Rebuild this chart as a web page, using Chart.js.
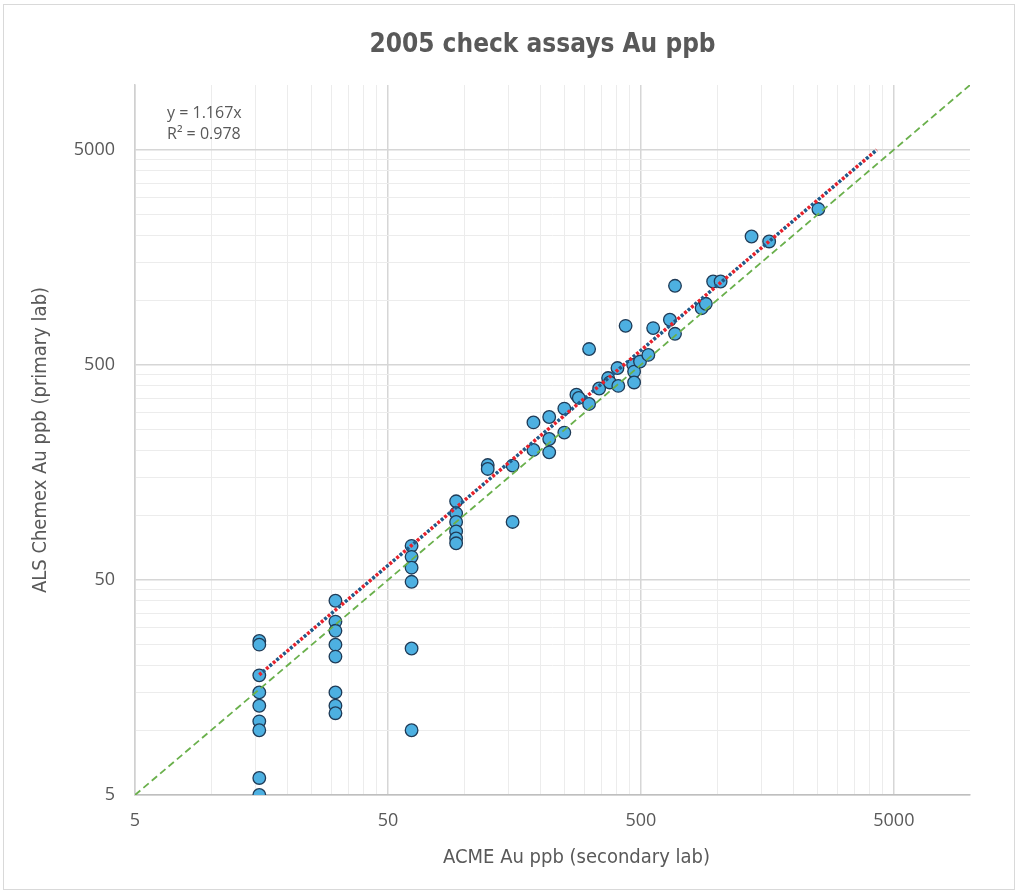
<!DOCTYPE html>
<html>
<head>
<meta charset="utf-8">
<script src="https://cdn.jsdelivr.net/npm/chart.js@4.4.1/dist/chart.umd.min.js"></script>
<style>
  html, body { margin: 0; padding: 0; background: #fff; }
  #wrap { position: relative; width: 1020px; height: 893px; }
  #frame { position: absolute; left: 3px; top: 4px; width: 1010px; height: 884px; border: 1px solid #d9d9d9; }
  #chart { position: absolute; left: 0; top: 0; }
</style>
</head>
<body>
<div id="wrap"><div id="frame"></div><canvas id="chart" width="1020" height="893"></canvas></div>
<script>
// ---- data ----
const acme = [
  15.5, 15.5, 15.5, 15.5, 15.5, 15.5, 15.5, 15.5, 15.5,
  31, 31, 31, 31, 31, 31, 31, 31,
  62, 62, 62, 62, 62, 62,
  93, 93, 93, 93, 93, 93,
  124, 124, 155.5, 155.5,
  188, 217, 249, 217, 188, 217, 249, 278, 284, 312, 312, 342, 371, 377, 407, 404,
  435, 466, 470, 470, 496, 535, 559, 651, 682, 682, 869, 903, 965, 1033, 1369, 1607, 2515
];
const alsChemex = [
  26, 25, 18, 15, 13, 11, 10, 6, 5,
  40, 32, 29, 25, 22, 15, 13, 12,
  72, 64, 57, 49, 24, 10,
  116, 102, 93, 84, 78, 74,
  171, 164, 170, 93,
  270, 286, 313, 226, 201, 196, 242, 363, 351, 329, 592, 388, 434, 414, 399, 483,
  759, 500, 465, 414, 518, 556, 741, 810, 697, 1165, 917, 961, 1220, 1220, 1975, 1873, 2650
];

// linear trend through origin, y = 1.167x
const trendX = [15.5, 4280];
const trendY = [18.1, 4995];
// 1:1 reference line
const oneToOneX = [5, 10000];
const oneToOneY = [5, 10000];

const gridValues = [5, 10, 15, 20, 25, 30, 35, 40, 45, 50,
  100, 150, 200, 250, 300, 350, 400, 450, 500,
  1000, 1500, 2000, 2500, 3000, 3500, 4000, 4500, 5000, 10000];
const majorTicks = [5, 50, 500, 5000];

const pts = (xs, ys) => xs.map((x, i) => ({ x: x, y: ys[i] }));

const narrow = "'Liberation Sans Narrow', 'DejaVu Sans Condensed', sans-serif";
const grey = '#595959';

function gridColor(c) {
  if (!c.tick) return '#eeeeee';
  if (c.tick.value === 10000) return 'rgba(0,0,0,0)';
  return majorTicks.includes(c.tick.value) ? '#d6d6d6' : '#ececec';
}
function gridWidth(c) {
  return c.tick && majorTicks.includes(c.tick.value) ? 1.5 : 1;
}
function setTicks(scale) {
  scale.ticks = gridValues.map(v => ({ value: v }));
}
const tickLabel = v => majorTicks.includes(v) ? String(v) : '';

// chart title, x-axis title and the trendline equation
const chartTexts = {
  id: 'chartTexts',
  afterDraw(chart) {
    const { ctx, chartArea } = chart;
    const mid = (chartArea.left + chartArea.right) / 2;
    ctx.save();
    ctx.fillStyle = grey;
    ctx.textBaseline = 'middle';
    ctx.textAlign = 'center';
    ctx.font = "bold 26px " + narrow;
    ctx.fillText('2005 check assays Au ppb', mid - 10, 45);
    ctx.font = "20px " + narrow;
    ctx.fillText('ACME Au ppb (secondary lab)', mid + 24, 858);
    ctx.textAlign = 'left';
    ctx.font = "16px 'Open Sans', sans-serif";
    ctx.fillText('y = 1.167x', chartArea.left + 32, chartArea.top + 28);
    ctx.fillText('R\u00B2 = 0.978', chartArea.left + 32, chartArea.top + 49);
    ctx.restore();
  }
};

new Chart(document.getElementById('chart'), {
  type: 'scatter',
  data: {
    datasets: [
      {
        label: 'check assays',
        data: pts(acme, alsChemex),
        backgroundColor: '#4DB0E1',
        borderColor: '#1F3B57',
        borderWidth: 1.3,
        pointRadius: 6.3,
        order: 3
      },
      {
        label: '1:1',
        data: pts(oneToOneX, oneToOneY),
        showLine: true,
        borderColor: '#6AB04C',
        borderWidth: 1.8,
        borderDash: [7, 4],
        pointRadius: 0,
        order: 2
      },
      {
        label: 'trend blue',
        data: pts(trendX, trendY),
        showLine: true,
        borderColor: '#1E5A8A',
        borderWidth: 3.5,
        borderDash: [3, 6],
        borderDashOffset: 4.5,
        pointRadius: 0,
        order: 1
      },
      {
        label: 'trend red',
        data: pts(trendX, trendY),
        showLine: true,
        borderColor: '#E8222C',
        borderWidth: 3.5,
        borderDash: [3, 6],
        pointRadius: 0,
        order: 0
      }
    ]
  },
  options: {
    responsive: false,
    animation: false,
    layout: { padding: { top: 85, right: 50, bottom: 0, left: 0 } },
    plugins: {
      legend: { display: false },
      tooltip: { enabled: false },
      title: { display: false }
    },
    scales: {
      x: {
        type: 'logarithmic',
        min: 5, max: 10000,
        afterBuildTicks: setTicks,
        afterFit: s => { s.height = 98; },
        ticks: { autoSkip: false, maxRotation: 0, padding: 15, color: grey,
                 font: { family: "'Open Sans', sans-serif", size: 18 }, callback: tickLabel },
        grid: { drawTicks: false, color: gridColor, lineWidth: gridWidth },
        border: { color: '#bfbfbf', width: 1.5 }
      },
      y: {
        type: 'logarithmic',
        min: 5, max: 10000,
        afterBuildTicks: setTicks,
        afterFit: s => { s.width = 135; },
        ticks: { autoSkip: false, padding: 20, color: grey,
                 font: { family: "'Open Sans', sans-serif", size: 18 }, callback: tickLabel },
        grid: { drawTicks: false, color: gridColor, lineWidth: gridWidth },
        border: { color: '#d0d0d0', width: 1.5 },
        title: { display: true, text: 'ALS Chemex Au ppb (primary lab)', color: grey,
                 font: { family: narrow, size: 20 }, padding: { top: 29, bottom: 0 } }
      }
    }
  },
  plugins: [chartTexts]
});
</script>
</body>
</html>
